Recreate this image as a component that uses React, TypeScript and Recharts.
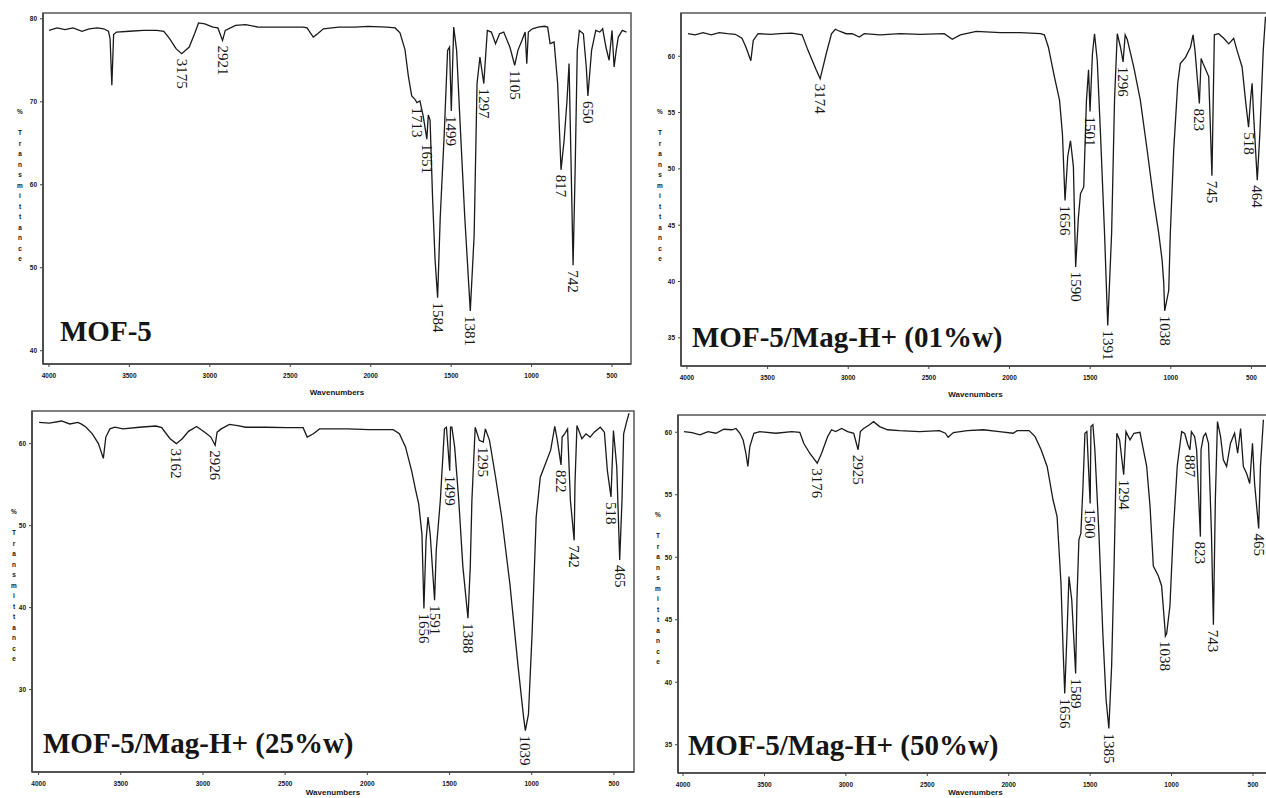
import React from "react";
import { ComposedChart, Line, XAxis, YAxis, ReferenceArea } from "recharts";

type Pt = [number, number];

// wavenumber (cm-1), % transmittance
const xTicks = [4000, 3500, 3000, 2500, 2000, 1500, 1000, 500];

const mof5: Pt[] = [
  [3999, 78.6], [3950, 78.9], [3900, 78.7], [3850, 78.9], [3795, 78.5], [3750, 78.8], [3700, 78.9], [3660, 78.8],
  [3630, 78.5], [3620, 77.6], [3609, 72.0], [3598, 78.1], [3580, 78.4], [3500, 78.5], [3413, 78.6], [3330, 78.6],
  [3286, 78.5], [3250, 77.6], [3210, 76.4], [3175, 75.8], [3128, 76.6], [3095, 78.2], [3070, 79.5], [3031, 79.4],
  [2981, 79.0], [2950, 78.9], [2921, 77.4], [2904, 78.6], [2840, 79.2], [2777, 79.3], [2700, 79.0], [2600, 79.0],
  [2523, 79.0], [2420, 79.0], [2396, 78.9], [2357, 77.8], [2330, 78.2], [2294, 78.8], [2200, 79.0], [2100, 79.0],
  [2014, 79.1], [1900, 79.0], [1848, 78.9], [1818, 78.3], [1787, 76.3], [1766, 73.1], [1745, 70.7], [1725, 70.3],
  [1713, 69.9], [1694, 70.1], [1673, 68.2], [1651, 65.5], [1642, 68.4], [1631, 67.8], [1615, 58.2], [1600, 51.0],
  [1584, 46.4], [1568, 56.0], [1543, 66.1], [1522, 76.2], [1510, 76.6], [1499, 68.9], [1484, 79.0], [1466, 76.2],
  [1441, 66.1], [1415, 56.0], [1381, 44.8], [1357, 53.9], [1339, 72.2], [1321, 75.4], [1297, 72.2], [1275, 78.6],
  [1250, 78.4], [1224, 77.0], [1199, 78.2], [1173, 78.4], [1135, 76.6], [1105, 74.4], [1085, 76.2], [1060, 77.4],
  [1040, 78.4], [1030, 74.6], [1020, 78.4], [995, 78.8], [960, 79.0], [920, 79.1], [900, 79.0], [885, 77.0],
  [860, 77.2], [838, 72.2], [817, 61.8], [798, 65.3], [780, 70.1], [767, 74.6], [754, 62.0], [742, 50.3],
  [729, 62.0], [716, 76.2], [703, 78.6], [678, 78.2], [660, 74.2], [650, 70.7], [627, 76.2], [601, 78.6],
  [576, 78.4], [558, 78.8], [538, 76.6], [518, 75.0], [500, 78.6], [487, 74.2], [474, 76.2], [461, 77.8],
  [436, 78.6], [410, 78.4],
];
const mof5Peaks = [3175, 2921, 1713, 1651, 1584, 1499, 1381, 1297, 1105, 817, 742, 650];
const mof5YTicks = [40, 50, 60, 70, 80];

const mag01: Pt[] = [
  [3994, 62.0], [3950, 61.9], [3900, 62.1], [3850, 61.9], [3800, 62.1], [3750, 62.0], [3700, 61.95], [3659, 61.6],
  [3634, 60.8], [3604, 59.6], [3589, 61.4], [3559, 62.0], [3480, 61.95], [3423, 62.0], [3350, 62.05], [3286, 61.9],
  [3249, 60.5], [3199, 58.8], [3174, 58.0], [3137, 60.2], [3104, 62.0], [3080, 62.4], [3050, 62.2], [3013, 62.0],
  [2976, 62.0], [2931, 61.7], [2901, 62.0], [2802, 61.9], [2678, 62.0], [2554, 61.95], [2405, 62.0], [2355, 61.5],
  [2305, 61.9], [2206, 62.2], [2057, 62.1], [1933, 62.1], [1809, 62.0], [1784, 61.9], [1759, 60.8], [1722, 58.2],
  [1690, 56.1], [1672, 53.1], [1656, 47.2], [1639, 51.1], [1622, 52.5], [1604, 50.2], [1590, 41.3], [1573, 45.7],
  [1560, 47.8], [1540, 48.4], [1523, 56.1], [1510, 58.8], [1501, 55.1], [1486, 60.2], [1473, 62.0], [1456, 59.6],
  [1436, 53.1], [1411, 44.3], [1391, 36.1], [1367, 44.3], [1349, 56.1], [1332, 62.0], [1312, 60.8], [1296, 59.5],
  [1283, 61.9], [1270, 61.5], [1230, 59.05], [1189, 56.1], [1147, 51.7], [1106, 47.2], [1075, 44.3], [1054, 41.9],
  [1044, 39.9], [1038, 37.4], [1013, 39.2], [1003, 44.3], [982, 51.7], [957, 57.6], [941, 59.35], [909, 59.9],
  [878, 60.8], [862, 61.9], [850, 60.5], [823, 55.8], [812, 59.8], [800, 59.35], [765, 58.2], [745, 49.4],
  [730, 61.9], [703, 62.0], [672, 61.6], [641, 61.1], [610, 61.6], [589, 60.5], [558, 59.05], [537, 56.1],
  [518, 53.7], [506, 56.1], [496, 57.6], [486, 54.6], [464, 49.0], [448, 53.1], [427, 60.5], [413, 63.5],
];
const mag01Peaks = [3174, 1656, 1590, 1501, 1391, 1296, 1038, 823, 745, 518, 464];
const mag01YTicks = [35, 40, 45, 50, 55, 60];

const mag25: Pt[] = [
  [3997, 62.6], [3935, 62.5], [3860, 62.76], [3810, 62.4], [3761, 62.6], [3736, 62.35], [3711, 62.0], [3673, 61.2],
  [3636, 60.0], [3606, 58.2], [3591, 60.8], [3566, 61.8], [3536, 62.0], [3487, 61.8], [3387, 62.0], [3287, 62.15],
  [3250, 61.95], [3238, 61.6], [3200, 60.6], [3162, 60.0], [3126, 60.6], [3088, 61.5], [3039, 62.1], [2989, 61.4],
  [2952, 60.8], [2926, 59.8], [2914, 61.4], [2889, 61.8], [2839, 62.35], [2789, 62.2], [2739, 62.0], [2615, 62.0],
  [2490, 61.95], [2391, 61.95], [2366, 60.8], [2328, 61.2], [2291, 61.8], [2117, 61.8], [1992, 61.7], [1843, 61.7],
  [1805, 61.2], [1768, 59.6], [1731, 56.7], [1706, 54.3], [1688, 52.7], [1668, 49.0], [1656, 39.9], [1643, 48.2],
  [1631, 51.05], [1618, 49.0], [1591, 40.9], [1581, 47.0], [1556, 53.1], [1531, 61.8], [1519, 62.0], [1499, 56.7],
  [1494, 62.0], [1486, 62.0], [1469, 59.6], [1444, 53.1], [1419, 45.0], [1388, 38.7], [1374, 45.0], [1364, 53.1],
  [1344, 62.0], [1319, 60.4], [1295, 60.2], [1282, 61.8], [1257, 60.4], [1220, 55.9], [1183, 51.05], [1133, 42.9],
  [1083, 32.8], [1050, 26.7], [1039, 25.0], [1020, 27.0], [998, 36.8], [973, 51.05], [948, 55.9], [923, 57.2],
  [885, 59.2], [860, 62.1], [845, 60.5], [822, 57.4], [815, 60.8], [800, 61.2], [782, 61.8], [765, 53.1],
  [742, 48.2], [737, 55.1], [725, 62.2], [695, 60.6], [670, 61.2], [645, 60.8], [620, 61.4], [583, 62.0],
  [558, 61.4], [540, 56.7], [518, 53.5], [503, 61.6], [483, 57.2], [465, 45.8], [451, 53.1], [441, 61.2],
  [421, 62.8], [408, 63.7],
];
const mag25Peaks = [3162, 2926, 1656, 1591, 1499, 1388, 1295, 1039, 822, 742, 518, 465];
const mag25YTicks = [30, 40, 50, 60];

const mag50: Pt[] = [
  [3994, 60.05], [3945, 59.97], [3896, 59.79], [3847, 60.05], [3798, 59.92], [3749, 60.24], [3700, 60.2], [3675, 60.3],
  [3651, 59.92], [3631, 59.39], [3614, 58.32], [3602, 57.26], [3590, 58.85], [3565, 59.92], [3528, 60.05], [3430, 59.92],
  [3332, 60.05], [3283, 60.0], [3259, 59.12], [3222, 58.32], [3176, 57.52], [3149, 58.32], [3112, 59.65], [3088, 60.2],
  [3063, 60.05], [3026, 60.3], [2989, 60.05], [2952, 59.92], [2925, 58.6], [2911, 60.05], [2891, 60.3], [2855, 60.6],
  [2830, 60.85], [2793, 60.45], [2744, 60.2], [2671, 60.13], [2548, 60.05], [2426, 60.13], [2389, 59.92], [2372, 59.6],
  [2340, 59.97], [2254, 60.13], [2156, 60.2], [2058, 60.05], [1973, 59.92], [1948, 60.13], [1875, 60.13], [1838, 59.65],
  [1801, 58.6], [1764, 57.26], [1728, 54.6], [1703, 53.26], [1679, 47.9], [1666, 42.6], [1656, 39.1], [1642, 43.9],
  [1630, 48.46], [1613, 46.6], [1589, 40.7], [1581, 46.6], [1569, 51.4], [1557, 51.9], [1544, 55.66], [1532, 59.92],
  [1520, 60.05], [1500, 54.3], [1495, 60.45], [1483, 60.6], [1471, 58.6], [1446, 51.9], [1422, 43.9], [1402, 38.6],
  [1385, 36.3], [1368, 41.3], [1353, 49.3], [1336, 59.92], [1319, 59.39], [1294, 56.6], [1280, 60.05], [1255, 59.39],
  [1231, 59.92], [1194, 60.0], [1153, 57.3], [1132, 54.05], [1112, 49.3], [1081, 48.5], [1061, 47.7], [1040, 44.2],
  [1038, 43.7], [1030, 43.9], [1010, 46.1], [990, 51.9], [965, 57.3], [938, 60.05], [919, 59.9], [900, 59.0],
  [887, 58.6], [878, 60.05], [858, 59.65], [846, 58.6], [823, 51.65], [819, 58.6], [804, 59.65], [790, 59.92],
  [773, 59.12], [755, 51.9], [743, 44.6], [731, 54.6], [718, 60.85], [699, 59.65], [682, 57.8], [662, 57.26],
  [638, 59.12], [613, 59.92], [594, 58.32], [576, 60.3], [559, 57.26], [539, 56.7], [520, 55.9], [503, 59.12],
  [490, 55.9], [465, 52.3], [454, 57.26], [436, 61.0],
];
const mag50Peaks = [3176, 2925, 1656, 1589, 1500, 1385, 1294, 1038, 887, 823, 743, 465];
const mag50YTicks = [35, 40, 45, 50, 55, 60];

const SANS = "'Liberation Sans', Arial, sans-serif";
const SERIF = "'Liberation Serif', 'Times New Roman', serif";
const INK = "#151515";

// chart origin sits 40px left / 8px above the plot box
const PAD_L = 40;
const PAD_T = 8;

interface PanelProps {
  spectrum: Pt[];
  peaks: number[];
  yTicks: number[];
  xDomain: [number, number];
  yDomain: [number, number];
  plot: { left: number; top: number; w: number; h: number };
  yLabel: { x: number; y: number };
  xLabelDy: number;
}

function PeakLabel(props: any) {
  const { cx, cy, payload } = props;
  if (cx == null || cy == null) return <g />;
  const y0 = cy + 5;
  return (
    <text
      x={cx}
      y={y0}
      transform={`rotate(90 ${cx} ${y0})`}
      fontSize={15}
      fontFamily={SERIF}
      fill={INK}
      dominantBaseline="central"
      textAnchor="start"
    >
      {payload.label}
    </text>
  );
}

function Panel({ spectrum, peaks, yTicks, xDomain, yDomain, plot, yLabel, xLabelDy }: PanelProps) {
  const rows = spectrum.map(([wn, t]) => ({ wn, t }));
  const peakRows = peaks.map((wn) => {
    let best = spectrum[0];
    for (const p of spectrum) if (Math.abs(p[0] - wn) < Math.abs(best[0] - wn)) best = p;
    return { wn, t: best[1], label: String(wn) };
  });

  const width = plot.w + PAD_L + 6;
  const height = plot.h + PAD_T + 34 + 4;
  const lx = yLabel.x - plot.left + PAD_L;
  const ly = yLabel.y - plot.top + PAD_T;

  const tickStyle = { fontSize: 6.5, fontWeight: 700, fill: INK, fontFamily: SANS };

  return (
    <div style={{ position: "absolute", left: plot.left - PAD_L, top: plot.top - PAD_T }}>
      <ComposedChart width={width} height={height} margin={{ top: PAD_T, right: 6, bottom: 4, left: 0 }}>
        <XAxis
          dataKey="wn"
          type="number"
          domain={xDomain}
          reversed
          ticks={xTicks}
          interval={0}
          height={34}
          tickSize={3}
          tickMargin={6}
          tick={tickStyle}
          axisLine={{ stroke: "#444", strokeWidth: 1.6 }}
          tickLine={{ stroke: "#444" }}
          label={() => (
            <text
              x={PAD_L + plot.w / 2}
              y={PAD_T + plot.h + xLabelDy}
              textAnchor="middle"
              dominantBaseline="central"
              fontSize={8}
              fontWeight={700}
              fontFamily={SANS}
              fill={INK}
            >
              Wavenumbers
            </text>
          )}
        />
        <YAxis
          type="number"
          domain={yDomain}
          ticks={yTicks}
          interval={0}
          width={PAD_L}
          tickSize={3}
          tickMargin={3}
          tick={tickStyle}
          axisLine={{ stroke: "#444", strokeWidth: 1.6 }}
          tickLine={{ stroke: "#444" }}
          label={() => (
            <text x={lx} y={ly} fontSize={6.5} fontWeight={700} fontFamily={SANS} fill={INK} textAnchor="middle">
              {Array.from("% Transmittance").map((c, i) => (
                <tspan key={i} x={lx} dy={i === 0 ? 0 : 10.5}>
                  {c === " " ? "\u00a0" : c}
                </tspan>
              ))}
            </text>
          )}
        />
        <ReferenceArea
          x1={xDomain[0]}
          x2={xDomain[1]}
          y1={yDomain[0]}
          y2={yDomain[1]}
          fill="none"
          fillOpacity={0}
          stroke="#555"
          strokeWidth={1.5}
          ifOverflow="visible"
        />
        <Line
          data={rows}
          dataKey="t"
          type="linear"
          stroke="#1a1a1a"
          strokeWidth={1.3}
          dot={false}
          activeDot={false}
          isAnimationActive={false}
        />
        <Line
          data={peakRows}
          dataKey="t"
          stroke="none"
          dot={(p: any) => <PeakLabel key={`pk-${p.index}`} {...p} />}
          activeDot={false}
          isAnimationActive={false}
        />
      </ComposedChart>
    </div>
  );
}

const titleStyle: React.CSSProperties = {
  position: "absolute",
  fontFamily: SERIF,
  fontWeight: 700,
  fontSize: 29,
  lineHeight: "29px",
  color: INK,
  whiteSpace: "nowrap",
};

export default function App() {
  return (
    <div
      style={{
        position: "absolute",
        left: 0,
        top: 0,
        width: 1266,
        height: 798,
        overflow: "hidden",
        background: "#fff",
      }}
    >
      <Panel
        spectrum={mof5}
        peaks={mof5Peaks}
        yTicks={mof5YTicks}
        xDomain={[382, 4037]}
        yDomain={[38.4, 80.7]}
        plot={{ left: 43, top: 13, w: 588, h: 351 }}
        yLabel={{ x: 20, y: 114 }}
        xLabelDy={28}
      />
      <Panel
        spectrum={mag01}
        peaks={mag01Peaks}
        yTicks={mag01YTicks}
        xDomain={[385, 4037]}
        yDomain={[32.5, 63.84]}
        plot={{ left: 681, top: 13, w: 589, h: 353 }}
        yLabel={{ x: 660, y: 114 }}
        xLabelDy={28}
      />
      <Panel
        spectrum={mag25}
        peaks={mag25Peaks}
        yTicks={mag25YTicks}
        xDomain={[378, 4040]}
        yDomain={[19.95, 63.98]}
        plot={{ left: 32, top: 411, w: 602, h: 361 }}
        yLabel={{ x: 14, y: 514 }}
        xLabelDy={20}
      />
      <Panel
        spectrum={mag50}
        peaks={mag50Peaks}
        yTicks={mag50YTicks}
        xDomain={[377, 4031]}
        yDomain={[32.74, 61.38]}
        plot={{ left: 678, top: 415, w: 595, h: 358 }}
        yLabel={{ x: 658, y: 517 }}
        xLabelDy={19}
      />

      <div style={{ ...titleStyle, left: 60, top: 341 - 24 }}>MOF-5</div>
      <div style={{ ...titleStyle, left: 692, top: 347 - 24 }}>MOF-5/Mag-H+ (01%w)</div>
      <div style={{ ...titleStyle, left: 43, top: 753 - 24 }}>MOF-5/Mag-H+ (25%w)</div>
      <div style={{ ...titleStyle, left: 688, top: 755 - 24 }}>MOF-5/Mag-H+ (50%w)</div>
    </div>
  );
}
